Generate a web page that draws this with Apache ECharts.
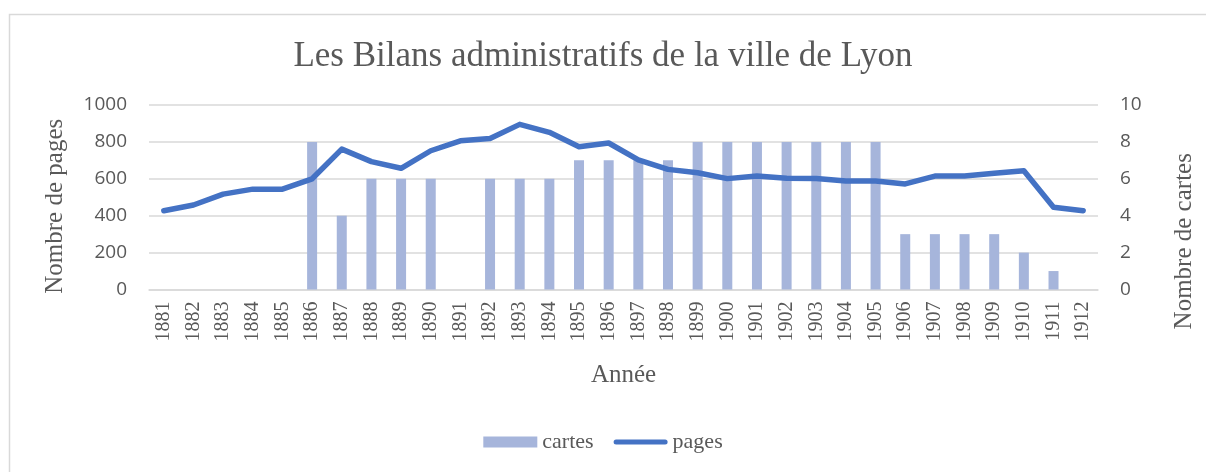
<!DOCTYPE html>
<html>
<head>
<meta charset="utf-8">
<script src="https://cdn.jsdelivr.net/npm/echarts@6/dist/echarts.min.js"></script>
<style>
html,body{margin:0;padding:0;background:#fff;}
#c{width:1206px;height:472px;}
</style>
</head>
<body>
<div id="c"></div>
<script>
const years = ['1881','1882','1883','1884','1885','1886','1887','1888','1889','1890','1891','1892','1893','1894','1895','1896','1897','1898','1899','1900','1901','1902','1903','1904','1905','1906','1907','1908','1909','1910','1911','1912'];
const cartes = [0,0,0,0,0,8,4,6,6,6,0,6,6,6,7,7,7,7,8,8,8,8,8,8,8,3,3,3,3,2,1,0];
const pages = [427,458,517,544,544,600,761,693,657,752,806,819,895,852,774,794,702,651,633,601,615,603,601,588,588,572,615,615,630,644,446,427];
const title = 'Les Bilans administratifs de la ville de Lyon';

const serif = '"Liberation Serif", "DejaVu Serif", serif';
const sans = '"Open Sans", "Liberation Sans", sans-serif';
const grey = '#595959';

const chart = echarts.init(document.getElementById('c'));
chart.setOption({
  animation: false,
  backgroundColor: '#fff',
  graphic: [{
    type: 'rect', left: 7, top: 12,
    shape: {width: 1300, height: 460},
    style: {fill: 'none', stroke: '#d9d9d9', lineWidth: 1.5}
  }],
  title: {
    text: title, left: 'center', top: 34,
    textStyle: {fontFamily: serif, fontSize: 35, fontWeight: 'normal', color: grey}
  },
  legend: {
    bottom: 14, left: 'center', itemGap: 20, itemWidth: 54, itemHeight: 11,
    textStyle: {fontFamily: serif, fontSize: 22, color: grey},
    data: [
      {name: 'cartes', icon: 'rect'},
      {name: 'pages', icon: 'path://M2.5,0H51.5A2.5,2.5,0,0,1,51.5,5H2.5A2.5,2.5,0,0,1,2.5,0Z', itemStyle: {color: '#4472c4'}}
    ]
  },
  grid: {left: 149, right: 108, top: 105, bottom: 182.5},
  xAxis: {
    type: 'category', data: years,
    name: 'Année', nameLocation: 'middle', nameGap: 73,
    nameTextStyle: {fontFamily: serif, fontSize: 25, color: grey},
    axisLine: {lineStyle: {color: '#d9d9d9', width: 1.5}},
    axisTick: {show: false},
    axisLabel: {rotate: 90, margin: 12, fontFamily: serif, fontSize: 20, color: grey, interval: 0}
  },
  yAxis: [{
    type: 'value', min: 0, max: 1000, interval: 200,
    name: 'Nombre de pages', nameLocation: 'middle', nameGap: 81, nameRotate: 90,
    nameTextStyle: {fontFamily: serif, fontSize: 25, color: grey, padding: [0, 18, 0, 0]},
    axisLabel: {fontFamily: sans, fontSize: 19, color: grey, margin: 22, formatter: v => String(v)},
    splitLine: {lineStyle: {color: '#d9d9d9', width: 1.5}},
    axisLine: {show: false}, axisTick: {show: false}
  }, {
    type: 'value', min: 0, max: 10, interval: 2,
    name: 'Nombre de cartes', nameLocation: 'middle', nameGap: 74, nameRotate: 90,
    nameTextStyle: {fontFamily: serif, fontSize: 25, color: grey, padding: [0, 88, 0, 0]},
    axisLabel: {fontFamily: sans, fontSize: 19, color: grey, margin: 22},
    splitLine: {show: false},
    axisLine: {show: false}, axisTick: {show: false}
  }],
  series: [{
    name: 'cartes', type: 'bar', yAxisIndex: 1, data: cartes,
    barWidth: 10,
    itemStyle: {color: '#a6b5db'}
  }, {
    name: 'pages', type: 'line', yAxisIndex: 0, data: pages,
    symbol: 'none',
    lineStyle: {color: '#4472c4', width: 5.5, cap: 'round', join: 'round'},
    itemStyle: {color: '#4472c4'}
  }]
});
</script>
</body>
</html>
